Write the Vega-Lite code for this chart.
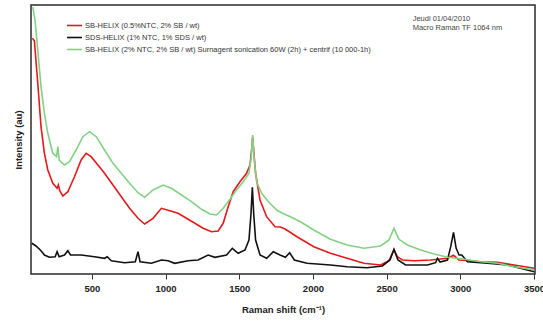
{
  "$schema": "https://vega.github.io/schema/vega-lite/v6.json",
  "width": 504,
  "height": 269,
  "autosize": {"type": "none"},
  "padding": {"left": 31, "top": 5, "right": 8, "bottom": 49},
  "background": "white",
  "config": {
    "font": "Liberation Sans",
    "view": {"stroke": "#2b2b2b", "strokeWidth": 1.5},
    "legend": {
      "orient": "none",
      "legendX": 35,
      "legendY": 12,
      "title": null,
      "symbolType": "stroke",
      "symbolSize": 225,
      "labelFontSize": 7.5,
      "labelColor": "#333",
      "labelLimit": 500,
      "labelOffset": 2,
      "rowPadding": -7.5,
      "padding": 0
    }
  },
  "datasets": {
    "spectra": [
      {"s":"SB05","x":96,"y":235.7},{"s":"SB05","x":110,"y":233.3},{"s":"SB05","x":133,"y":190.7},{"s":"SB05","x":155,"y":147.3},{"s":"SB05","x":178,"y":120.7},{"s":"SB05","x":201,"y":104},{"s":"SB05","x":235,"y":90.7},{"s":"SB05","x":264,"y":85.7},{"s":"SB05","x":273,"y":89},{"s":"SB05","x":282,"y":83.3},{"s":"SB05","x":303,"y":78},{"s":"SB05","x":337,"y":82.3},{"s":"SB05","x":382,"y":97.3},{"s":"SB05","x":427,"y":114},{"s":"SB05","x":461,"y":120.7},{"s":"SB05","x":495,"y":117.3},{"s":"SB05","x":541,"y":109},{"s":"SB05","x":586,"y":100.7},{"s":"SB05","x":643,"y":89},{"s":"SB05","x":700,"y":77.3},{"s":"SB05","x":756,"y":65.7},{"s":"SB05","x":813,"y":55.7},{"s":"SB05","x":858,"y":50},{"s":"SB05","x":915,"y":55.7},{"s":"SB05","x":972,"y":65.7},{"s":"SB05","x":1029,"y":63.3},{"s":"SB05","x":1085,"y":60.7},{"s":"SB05","x":1142,"y":55.7},{"s":"SB05","x":1199,"y":50.7},{"s":"SB05","x":1255,"y":45.7},{"s":"SB05","x":1312,"y":42.3},{"s":"SB05","x":1357,"y":43},{"s":"SB05","x":1391,"y":50.7},{"s":"SB05","x":1425,"y":67.3},{"s":"SB05","x":1459,"y":82.3},{"s":"SB05","x":1505,"y":92.3},{"s":"SB05","x":1550,"y":100.7},{"s":"SB05","x":1573,"y":109},{"s":"SB05","x":1584,"y":124},{"s":"SB05","x":1591,"y":137.3},{"s":"SB05","x":1598,"y":124},{"s":"SB05","x":1611,"y":100.7},{"s":"SB05","x":1641,"y":74},{"s":"SB05","x":1686,"y":57.3},{"s":"SB05","x":1743,"y":47.3},{"s":"SB05","x":1779,"y":47},{"s":"SB05","x":1811,"y":45},{"s":"SB05","x":1892,"y":37.3},{"s":"SB05","x":2006,"y":27.3},{"s":"SB05","x":2119,"y":20.7},{"s":"SB05","x":2232,"y":15.7},{"s":"SB05","x":2346,"y":10.7},{"s":"SB05","x":2459,"y":9},{"s":"SB05","x":2516,"y":13.3},{"s":"SB05","x":2550,"y":24},{"s":"SB05","x":2573,"y":17.3},{"s":"SB05","x":2607,"y":14},{"s":"SB05","x":2686,"y":13.3},{"s":"SB05","x":2799,"y":14},{"s":"SB05","x":2913,"y":15.7},{"s":"SB05","x":2954,"y":18.7},{"s":"SB05","x":2992,"y":14},{"s":"SB05","x":3140,"y":12.3},{"s":"SB05","x":3253,"y":11.7},{"s":"SB05","x":3366,"y":9},{"s":"SB05","x":3502,"y":5.7},
      {"s":"SDS","x":92,"y":30.7},{"s":"SDS","x":121,"y":28},{"s":"SDS","x":155,"y":23.3},{"s":"SDS","x":178,"y":19},{"s":"SDS","x":212,"y":16.7},{"s":"SDS","x":251,"y":17.3},{"s":"SDS","x":264,"y":22.3},{"s":"SDS","x":278,"y":17.3},{"s":"SDS","x":314,"y":19},{"s":"SDS","x":337,"y":23.3},{"s":"SDS","x":355,"y":19},{"s":"SDS","x":427,"y":19},{"s":"SDS","x":518,"y":17.3},{"s":"SDS","x":586,"y":15.7},{"s":"SDS","x":604,"y":17.3},{"s":"SDS","x":632,"y":13.3},{"s":"SDS","x":722,"y":11.3},{"s":"SDS","x":795,"y":12.3},{"s":"SDS","x":813,"y":22.3},{"s":"SDS","x":827,"y":12.3},{"s":"SDS","x":904,"y":10.7},{"s":"SDS","x":972,"y":14},{"s":"SDS","x":1017,"y":13.3},{"s":"SDS","x":1062,"y":10.7},{"s":"SDS","x":1153,"y":13.3},{"s":"SDS","x":1221,"y":14},{"s":"SDS","x":1289,"y":19},{"s":"SDS","x":1335,"y":16.7},{"s":"SDS","x":1414,"y":19},{"s":"SDS","x":1453,"y":25.7},{"s":"SDS","x":1493,"y":20.7},{"s":"SDS","x":1539,"y":24},{"s":"SDS","x":1566,"y":34},{"s":"SDS","x":1580,"y":60.7},{"s":"SDS","x":1589,"y":86.7},{"s":"SDS","x":1598,"y":60.7},{"s":"SDS","x":1611,"y":34},{"s":"SDS","x":1641,"y":19},{"s":"SDS","x":1686,"y":15.7},{"s":"SDS","x":1731,"y":22.3},{"s":"SDS","x":1777,"y":19},{"s":"SDS","x":1813,"y":16.7},{"s":"SDS","x":1842,"y":21.3},{"s":"SDS","x":1874,"y":14},{"s":"SDS","x":1960,"y":10.7},{"s":"SDS","x":2119,"y":9},{"s":"SDS","x":2232,"y":7.3},{"s":"SDS","x":2368,"y":6.3},{"s":"SDS","x":2471,"y":8},{"s":"SDS","x":2523,"y":14},{"s":"SDS","x":2550,"y":24.7},{"s":"SDS","x":2577,"y":14},{"s":"SDS","x":2629,"y":9},{"s":"SDS","x":2777,"y":9},{"s":"SDS","x":2833,"y":11.3},{"s":"SDS","x":2845,"y":15.7},{"s":"SDS","x":2863,"y":12},{"s":"SDS","x":2913,"y":14},{"s":"SDS","x":2935,"y":27.3},{"s":"SDS","x":2954,"y":41.7},{"s":"SDS","x":2972,"y":25.7},{"s":"SDS","x":2992,"y":19},{"s":"SDS","x":3010,"y":19},{"s":"SDS","x":3049,"y":12.3},{"s":"SDS","x":3185,"y":10.7},{"s":"SDS","x":3321,"y":9},{"s":"SDS","x":3502,"y":2.3},
      {"s":"SB2","x":99,"y":267},{"s":"SB2","x":114,"y":254},{"s":"SB2","x":133,"y":224},{"s":"SB2","x":155,"y":187.3},{"s":"SB2","x":178,"y":160.7},{"s":"SB2","x":201,"y":140.7},{"s":"SB2","x":235,"y":120.7},{"s":"SB2","x":260,"y":117.3},{"s":"SB2","x":269,"y":127.3},{"s":"SB2","x":278,"y":114},{"s":"SB2","x":314,"y":109},{"s":"SB2","x":348,"y":112.3},{"s":"SB2","x":393,"y":124},{"s":"SB2","x":439,"y":137.3},{"s":"SB2","x":484,"y":142.3},{"s":"SB2","x":530,"y":137.3},{"s":"SB2","x":586,"y":124},{"s":"SB2","x":643,"y":110.7},{"s":"SB2","x":700,"y":100.7},{"s":"SB2","x":756,"y":90.7},{"s":"SB2","x":813,"y":81.3},{"s":"SB2","x":858,"y":76.7},{"s":"SB2","x":915,"y":84},{"s":"SB2","x":983,"y":89},{"s":"SB2","x":1040,"y":85.7},{"s":"SB2","x":1108,"y":79},{"s":"SB2","x":1176,"y":72.3},{"s":"SB2","x":1244,"y":64.7},{"s":"SB2","x":1301,"y":60},{"s":"SB2","x":1346,"y":59},{"s":"SB2","x":1391,"y":65.7},{"s":"SB2","x":1437,"y":74.7},{"s":"SB2","x":1482,"y":84},{"s":"SB2","x":1527,"y":92.3},{"s":"SB2","x":1566,"y":100.7},{"s":"SB2","x":1582,"y":117.3},{"s":"SB2","x":1591,"y":139},{"s":"SB2","x":1600,"y":117.3},{"s":"SB2","x":1618,"y":92.3},{"s":"SB2","x":1652,"y":80.7},{"s":"SB2","x":1698,"y":72.3},{"s":"SB2","x":1754,"y":64},{"s":"SB2","x":1790,"y":61},{"s":"SB2","x":1847,"y":57.3},{"s":"SB2","x":1915,"y":52.3},{"s":"SB2","x":2006,"y":44},{"s":"SB2","x":2119,"y":34.7},{"s":"SB2","x":2232,"y":29},{"s":"SB2","x":2346,"y":25.7},{"s":"SB2","x":2459,"y":28},{"s":"SB2","x":2516,"y":34},{"s":"SB2","x":2550,"y":45.7},{"s":"SB2","x":2584,"y":34.7},{"s":"SB2","x":2641,"y":29},{"s":"SB2","x":2731,"y":24},{"s":"SB2","x":2822,"y":20},{"s":"SB2","x":2913,"y":16.7},{"s":"SB2","x":3004,"y":15.3},{"s":"SB2","x":3140,"y":12.3},{"s":"SB2","x":3253,"y":10.7},{"s":"SB2","x":3366,"y":7.3},{"s":"SB2","x":3502,"y":4}
    ],
    "notes": [
      {"x": 2677, "y": 255, "t": "Jeudi 01/04/2010"},
      {"x": 2677, "y": 246.5, "t": "Macro Raman TF 1064 nm"}
    ]
  },
  "layer": [
    {
      "data": {"name": "spectra"},
      "mark": {"type": "line", "clip": true},
      "encoding": {
        "x": {
          "field": "x", "type": "quantitative",
          "scale": {"domain": [87, 3507], "nice": false, "zero": false},
          "title": "Raman shift (cm⁻¹)",
          "axis": {
            "values": [500, 1000, 1500, 2000, 2500, 3000, 3500],
            "format": "d",
            "grid": false, "domain": false,
            "tickSize": 5, "tickColor": "#333",
            "labelFontSize": 9.5, "labelFontWeight": "bold", "labelColor": "#222", "labelPadding": 4,
            "titleFontSize": 9.5, "titleFontWeight": "bold", "titleColor": "#222", "titlePadding": 12
          }
        },
        "y": {
          "field": "y", "type": "quantitative",
          "scale": {"domain": [0, 269], "nice": false},
          "title": "Intensity (au)",
          "axis": {
            "labels": false, "ticks": false, "domain": false, "grid": false,
            "titleFontSize": 9.5, "titleFontWeight": "bold", "titleColor": "#222", "titlePadding": 8
          }
        },
        "color": {
          "field": "s", "type": "nominal",
          "scale": {"domain": ["SB05", "SDS", "SB2"], "range": ["#e3191c", "#111111", "#84d184"]},
          "legend": {"title": null, "labelExpr": "datum.label == 'SB05' ? 'SB-HELIX (0.5%NTC, 2% SB / wt)' : datum.label == 'SDS' ? 'SDS-HELIX (1% NTC, 1% SDS / wt)' : 'SB-HELIX (2% NTC, 2% SB  / wt) Surnagent sonication 60W (2h) + centrif (10 000-1h)'"}
        },
        "strokeWidth": {
          "field": "s", "type": "nominal",
          "scale": {"domain": ["SB05", "SDS", "SB2"], "range": [1.6, 1.6, 0.9]},
          "legend": {"title": null, "labelExpr": "datum.label == 'SB05' ? 'SB-HELIX (0.5%NTC, 2% SB / wt)' : datum.label == 'SDS' ? 'SDS-HELIX (1% NTC, 1% SDS / wt)' : 'SB-HELIX (2% NTC, 2% SB  / wt) Surnagent sonication 60W (2h) + centrif (10 000-1h)'"}
        }
      }
    },
    {
      "data": {"name": "notes"},
      "mark": {"type": "text", "align": "left", "fontSize": 7.5, "color": "#444"},
      "encoding": {
        "x": {"field": "x", "type": "quantitative"},
        "y": {"field": "y", "type": "quantitative"},
        "text": {"field": "t"}
      }
    }
  ]
}
